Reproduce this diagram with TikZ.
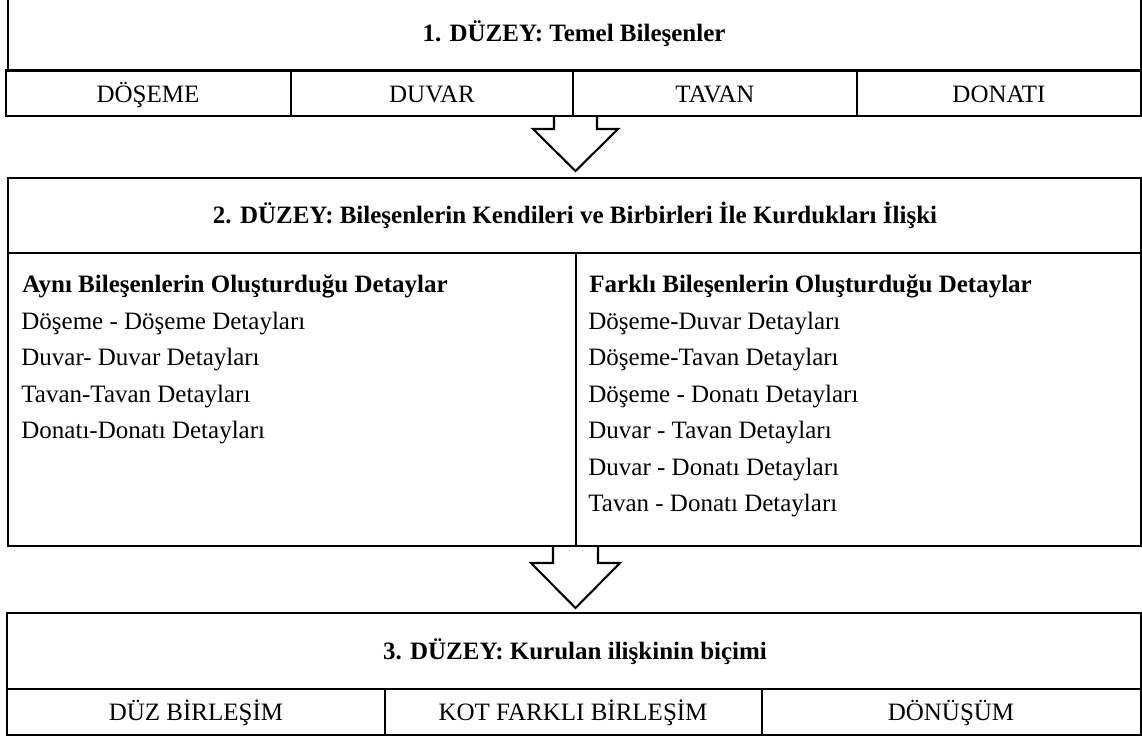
\documentclass[tikz,border=0pt]{standalone}
\usepackage{fontspec}
\setmainfont{Liberation Serif}
\usetikzlibrary{fit}

\tikzset{
  cell/.style={draw, line width=1.4pt, inner sep=0pt},
  thincell/.style={cell, line width=1pt},
  celltext/.style={anchor=base, inner sep=0pt, font=\fontsize{12}{14}\selectfont},
  title/.style={anchor=base, inner sep=0pt, font=\fontsize{12}{14}\selectfont\bfseries},
  item/.style={anchor=base west, inner sep=0pt, font=\fontsize{12}{14}\selectfont},
  blockarrow/.style={draw, line width=1pt, line join=miter},
}

\begin{document}
\begin{tikzpicture}[x=0.48pt, y=-0.48pt]
        \useasboundingbox (0,0) rectangle (1142,737);
        \clip (0,0) rectangle (1142,737);

        % 1. duzey
        \node[cell, line width=1.3pt, fit={(8,-40) (1141,70.5)}] (lvlone) {};
        \node[cell, fit={(6,70.5) (291,116)}] (doseme) {};
        \node[cell, fit={(291,70.5) (573,116)}] (duvar) {};
        \node[cell, fit={(573,70.5) (857,116)}] (tavan) {};
        \node[cell, fit={(857,70.5) (1141,116)}] (donati) {};
        \node[title] (lvlonetitle) at (574,41) {1. DÜZEY: Temel Bileşenler};
        \node[celltext] (dosemetext) at (148,102) {DÖŞEME};
        \node[celltext] (duvartext) at (432,102) {DUVAR};
        \node[celltext] (tavantext) at (715,102) {TAVAN};
        \node[celltext] (donatitext) at (999,102) {DONATI};

        % 2. duzey
        \node[thincell, fit={(8,178) (1141,253)}] (lvltwo) {};
        \node[thincell, fit={(8,253) (576,546)}] (same) {};
        \node[thincell, fit={(576,253) (1141,546)}] (diff) {};
        \node[title] (lvltwotitle) at (575,223)
            {2. DÜZEY: Bileşenlerin Kendileri ve Birbirleri İle Kurdukları İlişki};

        \node[item, font=\fontsize{12}{14}\selectfont\bfseries] (sametitle) at (22,292) {Aynı Bileşenlerin Oluşturduğu Detaylar};
        \node[item] (sameone) at (21,329) {Döşeme - Döşeme Detayları};
        \node[item] (sametwo) at (21,365.5) {Duvar- Duvar Detayları};
        \node[item] (samethree) at (21,402) {Tavan-Tavan Detayları};
        \node[item] (samefour) at (21,438.5) {Donatı-Donatı Detayları};

        \node[item, font=\fontsize{12}{14}\selectfont\bfseries] (difftitle) at (589,292) {Farklı Bileşenlerin Oluşturduğu Detaylar};
        \node[item] (diffone) at (588,329) {Döşeme-Duvar Detayları};
        \node[item] (difftwo) at (588,365.5) {Döşeme-Tavan Detayları};
        \node[item] (diffthree) at (588,402) {Döşeme - Donatı Detayları};
        \node[item] (difffour) at (588,438.5) {Duvar - Tavan Detayları};
        \node[item] (difffive) at (588,475) {Duvar - Donatı Detayları};
        \node[item] (diffsix) at (588,511.5) {Tavan - Donatı Detayları};

        % 3. duzey
        \node[cell, fit={(7,613) (1141,689)}] (lvlthree) {};
        \node[cell, fit={(7,689) (385,735)}] (duz) {};
        \node[cell, fit={(385,689) (762,735)}] (kot) {};
        \node[cell, fit={(762,689) (1141,735)}] (donusum) {};
        \node[title] (lvlthreetitle) at (575,659) {3. DÜZEY: Kurulan ilişkinin biçimi};
        \node[celltext] (duztext) at (196,720) {DÜZ BİRLEŞİM};
        \node[celltext] (kottext) at (573,720) {KOT FARKLI BİRLEŞİM};
        \node[celltext] (donusumtext) at (951,720) {DÖNÜŞÜM};

        % oklar
        \coordinate (arrowone) at (575.5,116);
        \coordinate (arrowtwo) at (575.5,546);
        \draw[blockarrow] (arrowone) ++(-21.5,0) -- ++(0,13) -- ++(-21,0) -- ++(42.5,42) -- ++(42.5,-42) -- ++(-21,0) -- ++(0,-13);
        \draw[blockarrow] (arrowtwo) ++(-22.5,0) -- ++(0,17) -- ++(-22,0) -- ++(44.5,45) -- ++(44.5,-45) -- ++(-22,0) -- ++(0,-17);
    \end{tikzpicture}
\end{document}
